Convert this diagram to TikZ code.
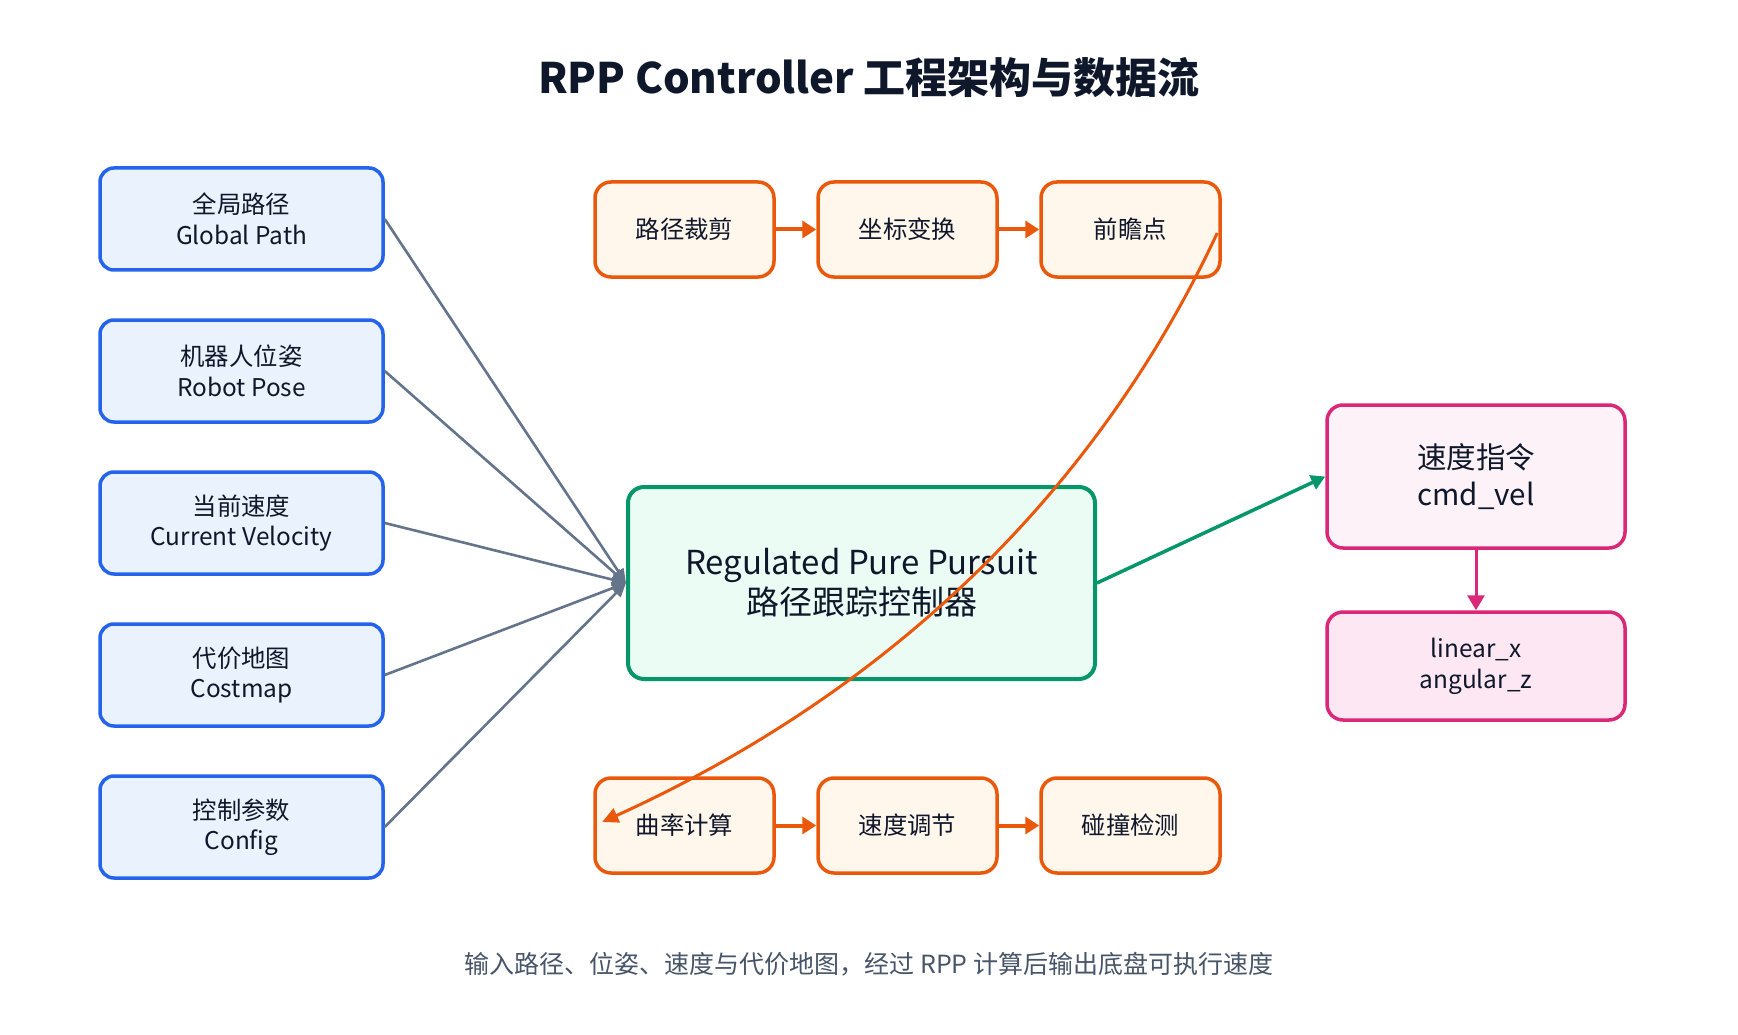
\documentclass[tikz,border=0pt]{standalone}
\usepackage{fontspec}
\setmainfont{Noto Sans CJK SC}
\usetikzlibrary{arrows.meta,positioning,calc}
\definecolor{ink}{HTML}{0F172A}
\definecolor{muted}{HTML}{475569}
\definecolor{inblue}{HTML}{2563EB}
\definecolor{infill}{HTML}{EAF2FE}
\definecolor{wire}{HTML}{64748B}
\definecolor{orng}{HTML}{EA580C}
\definecolor{orfill}{HTML}{FFF6EC}
\definecolor{grn}{HTML}{059669}
\definecolor{grfill}{HTML}{EBFCF4}
\definecolor{pnk}{HTML}{DB2777}
\definecolor{pkfill}{HTML}{FDF2F8}
\definecolor{pkfilldeep}{HTML}{FCE7F3}

\begin{document}
\begin{tikzpicture}[
  x=1pt, y=-1pt,
  font=\fontsize{24.4}{30.5}\selectfont, text=ink,
  inbox/.style={draw=inblue, fill=infill, line width=3.5pt,
                rounded corners=14pt, align=center, inner sep=0pt,
                minimum width=283pt, minimum height=102pt},
  stepbox/.style={draw=orng, fill=orfill, line width=3.5pt,
                  rounded corners=16pt, align=center, inner sep=0pt,
                  minimum width=179pt, minimum height=95pt},
  corebox/.style={draw=grn, fill=grfill, line width=4pt,
                  rounded corners=16pt, align=center, inner sep=0pt,
                  minimum width=467pt, minimum height=192pt,
                  font=\fontsize{33}{40}\selectfont},
  outbox/.style={draw=pnk, fill=pkfill, line width=3.5pt,
                 rounded corners=16pt, align=center, inner sep=0pt,
                 minimum width=298pt, minimum height=143pt,
                 font=\fontsize{29.5}{36.5}\selectfont},
  feed/.style={-{Triangle[length=14pt, width=12pt]}, wire, line width=2.6pt},
  flow/.style={-{Triangle[length=14pt, width=17pt]}, orng, line width=4pt},
  node distance=46.5pt
]
\useasboundingbox (0,0) rectangle (1738,1035);
\node[font=\fontsize{42}{50}\selectfont\bfseries] (title) at (869,78)
  {RPP Controller 工程架构与数据流};
\node[inbox] (gpath) at (241.5,219) {全局路径\\Global Path};
\node[inbox, below=of gpath] (pose) {机器人位姿\\Robot Pose};
\node[inbox, below=of pose] (vel) {当前速度\\Current Velocity};
\node[inbox, below=of vel] (cmap) {代价地图\\Costmap};
\node[inbox, below=of cmap] (cfg) {控制参数\\Config};
\node[stepbox] (clip) at (684.5,229.5) {路径裁剪};
\node[stepbox, right=40.5pt of clip] (xform) {坐标变换};
\node[stepbox, right=40.5pt of xform] (look) {前瞻点};
\node[stepbox] (curv) at (684.5,825.5) {曲率计算};
\node[stepbox, right=40.5pt of curv] (vreg) {速度调节};
\node[stepbox, right=40.5pt of vreg] (coll) {碰撞检测};
\node[corebox] (core) at (861.5,583)
  {Regulated Pure Pursuit\\路径跟踪控制器};
\node[outbox] (cmd) at (1476,476.5) {速度指令\\cmd\_vel};
\node[outbox, fill=pkfilldeep, minimum height=108pt,
      font=\fontsize{24.4}{31}\selectfont, below=60.5pt of cmd] (twist)
  {linear\_x\\angular\_z};
\node[font=\fontsize{25}{31}\selectfont, text=muted] (note) at (869,964)
  {输入路径、位姿、速度与代价地图，经过 RPP 计算后输出底盘可执行速度};
\draw[feed] (gpath.east) -- (core.west);
\draw[feed] (pose.east) -- (core.west);
\draw[feed] (vel.east) -- (core.west);
\draw[feed] (cmap.east) -- (core.west);
\draw[feed] (cfg.east) -- (core.west);
\draw[flow] (clip) -- (xform);
\draw[flow] (xform) -- (look);
\draw[flow] (curv) -- (vreg);
\draw[flow] (vreg) -- (coll);
\draw[-{Triangle[length=14pt, width=15pt]}, grn, line width=3.5pt]
  (core.east) -- (cmd.west);
\draw[-{Triangle[length=15pt, width=17pt]}, pnk, line width=3pt]
  (cmd.south) -- (twist.north);
\draw[-{Triangle[length=16pt, width=15pt]}, orng, line width=3pt]
  ($(look.east)+(-4.5,3.5)$) .. controls +(-127,272) and +(273,-124)
  .. ($(curv.west)+(9,-3.5)$);
\end{tikzpicture}
\end{document}
